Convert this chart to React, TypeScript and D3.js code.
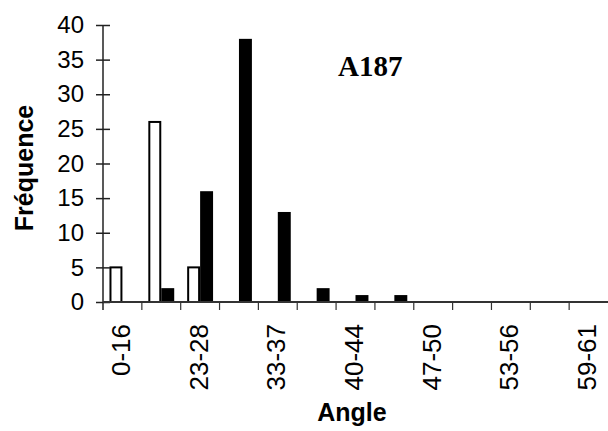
import React, { useEffect, useRef } from "react";
import * as d3 from "d3";

// angle classes (only every other one is labelled on the axis)
const tickLabels = ["0-16", "", "23-28", "", "33-37", "", "40-44", "", "47-50", "", "53-56", "", "59-61"];
const whiteSeries = [5, 26, 5, 0, 0, 0, 0, 0, 0, 0, 0, 0, 0];
const blackSeries = [0, 2, 16, 38, 13, 2, 1, 1, 0, 0, 0, 0, 0];
const yTicks = [0, 5, 10, 15, 20, 25, 30, 35, 40];
const seriesKeys = ["white", "black"];
const chartTitle = "A187";

const W = 608, H = 431;

export default function App() {
  const ref = useRef<SVGSVGElement>(null);

  useEffect(() => {
    const svg = d3.select(ref.current);
    svg.selectAll("*").remove();

    const left = 103, right = 608, top = 25, bottom = 302;
    const idx = tickLabels.map((_, i) => i);

    const x = d3.scaleBand<number>().domain(idx).range([left, right]).padding(0);
    const xs = d3.scaleBand().domain(seriesKeys).range([0, x.bandwidth()]).paddingInner(0).paddingOuter(0.5);
    const y = d3.scaleLinear().domain([0, 40]).range([bottom, top]);

    const rows = idx.map(i => ({ i, white: whiteSeries[i], black: blackSeries[i] }));

    // bars
    const g = svg.append("g");
    g.selectAll(".bw")
      .data(rows.filter(d => d.white > 0))
      .join("rect")
      .attr("class", "bw")
      .attr("x", d => x(d.i)! + xs("white")! + 1)
      .attr("y", d => y(d.white))
      .attr("width", xs.bandwidth() - 2)
      .attr("height", d => bottom - y(d.white))
      .style("fill", "#fff")
      .style("stroke", "#000")
      .style("stroke-width", 2);

    g.selectAll(".bb")
      .data(rows.filter(d => d.black > 0))
      .join("rect")
      .attr("class", "bb")
      .attr("x", d => x(d.i)! + xs("black")!)
      .attr("y", d => y(d.black))
      .attr("width", xs.bandwidth())
      .attr("height", d => bottom - y(d.black))
      .style("fill", "#000");

    // y axis
    const yAxis = svg.append("g")
      .attr("transform", `translate(${left},0)`)
      .call(d3.axisLeft(y).tickValues(yTicks).tickSize(7).tickSizeOuter(0).tickPadding(12));
    yAxis.select(".domain").remove();
    yAxis.selectAll(".tick line").attr("x1", 7).attr("stroke", "#222").attr("stroke-width", 1.5);
    yAxis.selectAll(".tick text")
      .style("font-family", "Liberation Sans, Arial, sans-serif")
      .style("font-size", "24px")
      .attr("fill", "#000");
    svg.append("line")
      .attr("x1", left).attr("x2", left)
      .attr("y1", top).attr("y2", bottom + 8)
      .attr("stroke", "#222").attr("stroke-width", 1.5);

    // x axis
    svg.append("line")
      .attr("x1", left).attr("x2", right)
      .attr("y1", bottom).attr("y2", bottom)
      .attr("stroke", "#333").attr("stroke-width", 2);
    svg.selectAll(".xtick")
      .data(idx.slice(1))
      .join("line")
      .attr("class", "xtick")
      .attr("x1", d => x(d)!).attr("x2", d => x(d)!)
      .attr("y1", bottom).attr("y2", bottom + 8)
      .attr("stroke", "#333").attr("stroke-width", 1.2);

    svg.selectAll(".xlab")
      .data(rows.filter(d => tickLabels[d.i] !== ""))
      .join("text")
      .attr("class", "xlab")
      .attr("transform", d => `translate(${x(d.i)! + x.bandwidth() / 2 - 1},${bottom + 22}) rotate(-90)`)
      .attr("text-anchor", "end")
      .attr("dy", "0.33em")
      .style("font-family", "Liberation Sans, Arial, sans-serif")
      .style("font-size", "26px")
      .text(d => tickLabels[d.i]);

    // labels
    svg.append("text")
      .attr("x", 352).attr("y", 421)
      .attr("text-anchor", "middle")
      .style("font-family", "Liberation Sans, Arial, sans-serif")
      .style("font-size", "25px").style("font-weight", "bold")
      .text("Angle");

    svg.append("text")
      .attr("transform", `translate(33,168) rotate(-90)`)
      .attr("text-anchor", "middle")
      .style("font-family", "Liberation Sans, Arial, sans-serif")
      .style("font-size", "25px").style("font-weight", "bold")
      .text("Fréquence");

    svg.append("text")
      .attr("x", 338).attr("y", 76)
      .style("font-family", "Liberation Serif, Times New Roman, serif")
      .style("font-size", "29px").style("font-weight", "bold")
      .text(chartTitle);
  }, []);

  return (
    <svg ref={ref} width={W} height={H}
      style={{ position: "absolute", left: 0, top: 0, background: "#fff" }} />
  );
}
